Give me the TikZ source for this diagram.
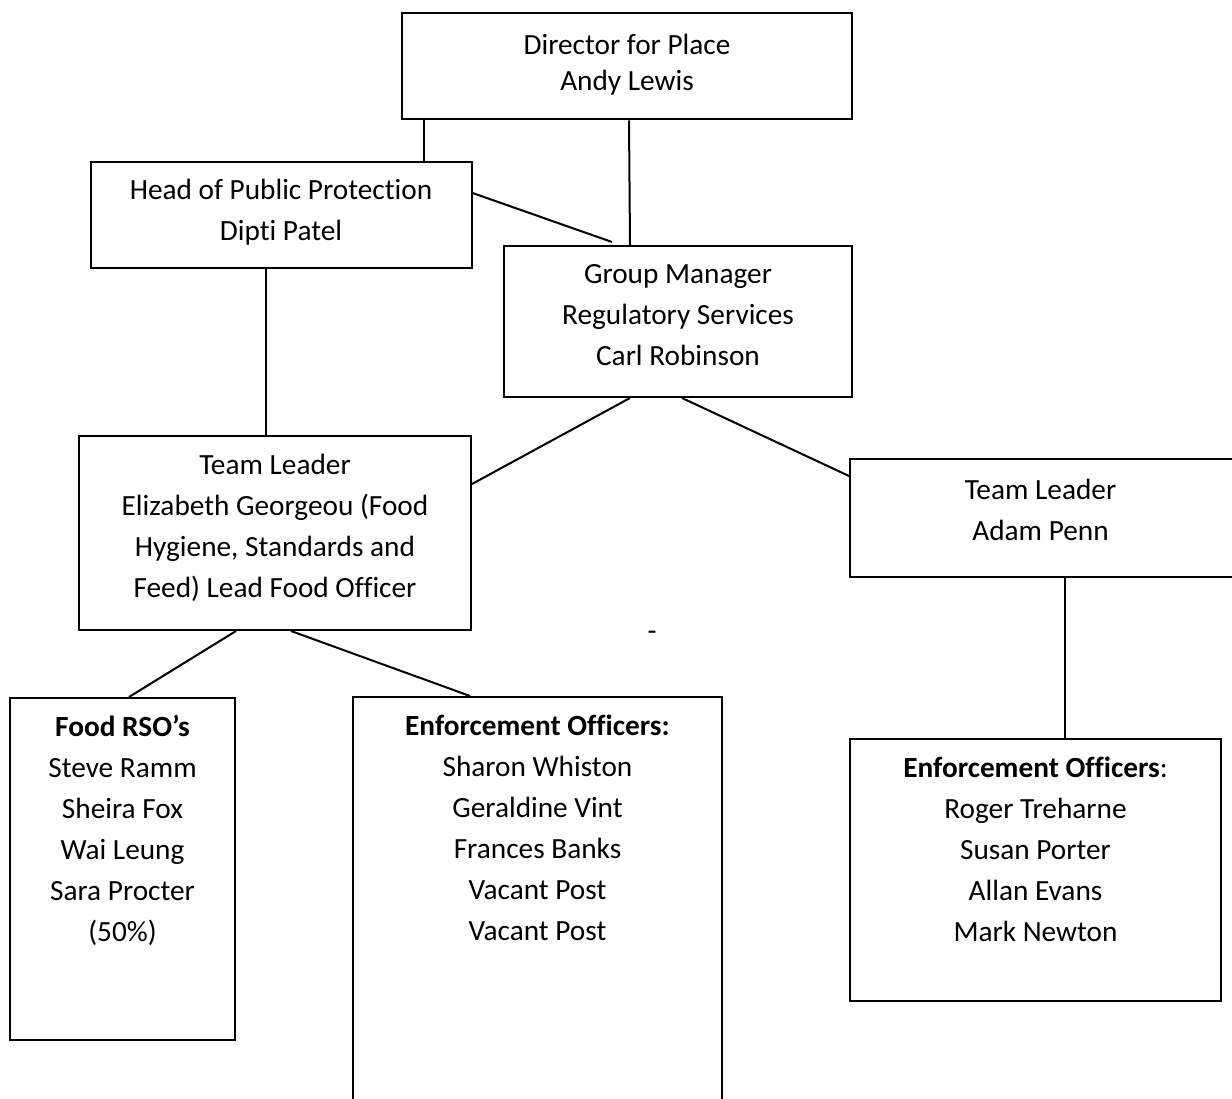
\documentclass[tikz,border=0pt]{standalone}
\usepackage{fontspec}
\setmainfont{Carlito}[Ligatures={NoCommon}]
\begin{document}
\begin{tikzpicture}[x=1pt,y=-1pt,
  box/.style={draw, line width=2pt, inner sep=0pt, minimum width=#1},
  txt/.style={anchor=north, inner sep=0pt, align=center,
    font=\fontsize{29.3}{41}\selectfont},
  conn/.style={line width=2pt}]
\useasboundingbox[fill=white] (0,0) rectangle (1232,1099);
% boxes
\node[box=450pt, minimum height=106pt] (dir)  at (627,66.5) {};
\node[box=381pt, minimum height=106pt] (head) at (281,215) {};
\node[box=348pt, minimum height=151pt] (gm)   at (678,321.5) {};
\node[box=392pt, minimum height=194pt] (tl1)  at (275,533) {};
\node[box=392pt, minimum height=118pt] (tl2)  at (1046,518) {};
\node[box=225pt, minimum height=342pt] (rso)  at (122.5,869) {};
\node[box=369pt, minimum height=423pt] (eo1)  at (537.5,908.5) {};
\node[box=371pt, minimum height=262pt] (eo2)  at (1035.5,870) {};
% texts
\node[txt, font=\fontsize{29.3}{36}\selectfont] (tdir)  at ([yshift=-16.5pt]dir.north)  {\strut Director for Place\\\strut Andy Lewis};
\node[txt] (thead) at ([yshift=-10pt]head.north) {\strut Head of Public Protection\\\strut Dipti Patel};
\node[txt] (tgm)   at ([yshift=-10pt]gm.north)   {\strut Group Manager\\\strut Regulatory Services\\\strut Carl Robinson};
\node[txt] (ttl1)  at ([yshift=-11pt]tl1.north)  {\strut Team Leader\\\strut Elizabeth Georgeou (Food\\\strut Hygiene, Standards and\\\strut Feed) Lead Food Officer};
\node[txt] (ttl2)  at (1040.5,470.3) {\strut Team Leader\\\strut Adam Penn};
\node[txt] (trso)  at ([yshift=-11pt]rso.north)  {\strut\textbf{Food RSO’s}\\\strut Steve Ramm\\\strut Sheira Fox\\\strut Wai Leung\\\strut Sara Procter\\\strut (50\%)};
\node[txt] (teo1)  at ([yshift=-11pt]eo1.north)  {\strut\textbf{Enforcement Officers:}\\\strut Sharon Whiston\\\strut Geraldine Vint\\\strut Frances Banks\\\strut Vacant Post\\\strut Vacant Post};
\node[txt] (teo2)  at ([yshift=-11pt]eo2.north)  {\strut\textbf{Enforcement Officers}:\\\strut Roger Treharne\\\strut Susan Porter\\\strut Allan Evans\\\strut Mark Newton};
\node[anchor=base, inner sep=0pt, font=\fontsize{29.3}{41}\selectfont] (dash) at (652,640) {-};
% connectors
\draw[conn] (dir.south -| 423.5,0) -- (head.north -| 423.5,0);
\draw[conn] (dir.south -| 629,0) -- (gm.north -| 630,0);
\draw[conn] (head.east |- 0,193) -- (612,242);
\draw[conn] (head.south -| 266,0) -- (tl1.north -| 266,0);
\draw[conn] (gm.south -| 630,0) -- (tl1.east |- 0,484);
\draw[conn] (gm.south -| 682,0) -- (tl2.west |- 0,476);
\draw[conn] (tl1.south -| 236,0) -- (rso.north -| 129,0);
\draw[conn] (tl1.south -| 291,0) -- (eo1.north -| 470,0);
\draw[conn] (tl2.south -| 1065,0) -- (eo2.north -| 1065,0);
\end{tikzpicture}
\end{document}
